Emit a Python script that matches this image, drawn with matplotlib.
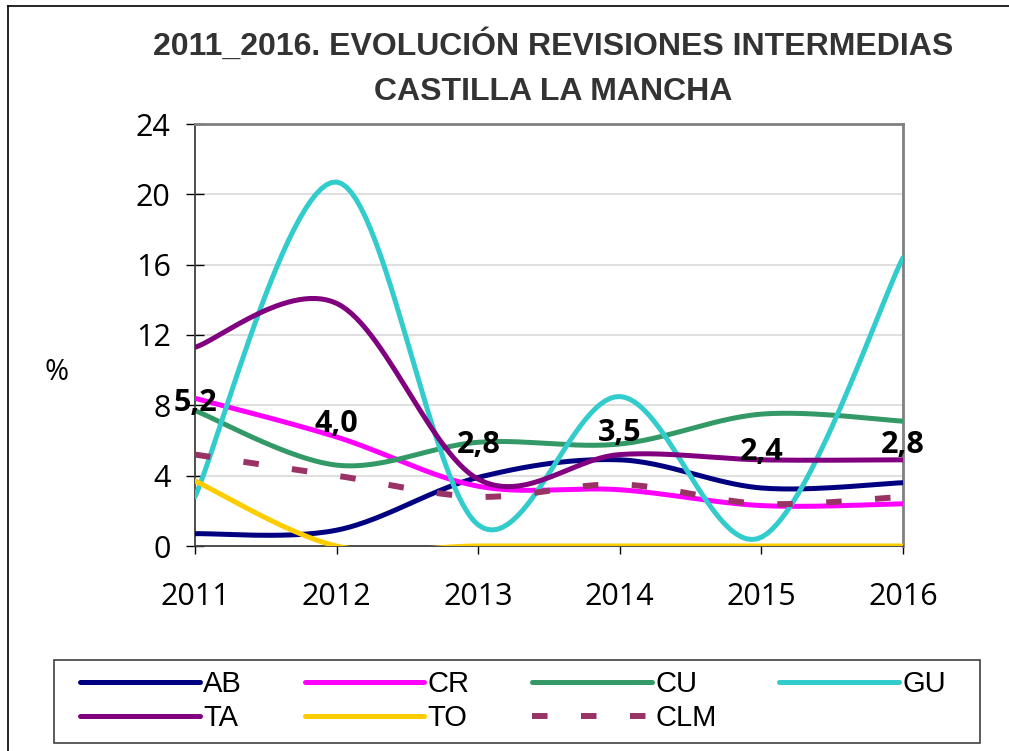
import numpy as np
import matplotlib
matplotlib.use("Agg")
import matplotlib.pyplot as plt
from matplotlib.lines import Line2D
from matplotlib.patches import Rectangle

years = ["2011", "2012", "2013", "2014", "2015", "2016"]

ab = [0.7, 0.9, 3.9, 4.9, 3.3, 3.6]
cr = [8.4, 6.2, 3.4, 3.2, 2.3, 2.4]
cu = [7.7, 4.6, 5.9, 5.8, 7.5, 7.1]
gu = [2.8, 20.7, 1.2, 8.5, 0.5, 16.4]
ta = [11.3, 13.8, 3.8, 5.2, 4.9, 4.9]
to = [3.7, 0.0, 0.0, 0.0, 0.0, 0.0]
clm = [5.2, 4.0, 2.8, 3.5, 2.4, 2.8]
clm_labels = ["5,2", "4,0", "2,8", "3,5", "2,4", "2,8"]

W, H = 1009, 751
TICKFONT = ["Open Sans", "DejaVu Sans"]


def smooth(y, n=30):
    # bezier through the points, like the smoothed lines of a spreadsheet chart
    pts = np.column_stack([np.arange(len(y)), y]).astype(float)
    out = []
    for i in range(len(pts) - 1):
        p0 = pts[i - 1] if i > 0 else pts[i]
        p1 = pts[i]
        p2 = pts[i + 1]
        p3 = pts[i + 2] if i + 2 < len(pts) else pts[i + 1]
        c1 = p1 + (p2 - p0) / 6
        c2 = p2 - (p3 - p1) / 6
        t = np.linspace(0, 1, n)[:, None]
        seg = (1 - t) ** 3 * p1 + 3 * (1 - t) ** 2 * t * c1 + 3 * (1 - t) * t ** 2 * c2 + t ** 3 * p2
        out.append(seg if i == 0 else seg[1:])
    s = np.vstack(out)
    return s[:, 0], s[:, 1]


fig = plt.figure(figsize=(W / 100, H / 100), dpi=100)
ax = fig.add_axes([195 / W, 1 - 546 / H, (903 - 195) / W, (546 - 124) / H])

series = [
    ("AB", ab, "#000080"),
    ("CR", cr, "#FF00FF"),
    ("CU", cu, "#339966"),
    ("GU", gu, "#33CCCC"),
    ("TA", ta, "#800080"),
    ("TO", to, "#FFCC00"),
]
lines = {}
for name, vals, col in series:
    xs, ys = smooth(vals)
    ln, = ax.plot(xs, ys, color=col, lw=3.6, solid_capstyle="round",
                  solid_joinstyle="round", label=name, zorder=3)
    lines[name] = ln

xs, ys = smooth(clm)
ln, = ax.plot(xs, ys, color="#993366", lw=4.3, linestyle=(0, (2.6, 5.6)),
              dash_capstyle="butt", label="CLM", zorder=3)
lines["CLM"] = ln

for i, lab in enumerate(clm_labels):
    ax.annotate(lab, (i, clm[i]), xytext=(0, 37), textcoords="offset points",
                ha="center", va="center", fontsize=22, fontweight="bold",
                family=TICKFONT, zorder=5, annotation_clip=False)

ax.set_xlim(0, 5)
ax.set_ylim(0, 24)
ax.set_xticks(range(len(years)))
ax.set_xticklabels(years)
ax.set_yticks(range(0, 25, 4))
ax.yaxis.grid(True, color="#D9D9D9", lw=1.2)
ax.set_axisbelow(True)

for lab in ax.get_xticklabels() + ax.get_yticklabels():
    lab.set_family(TICKFONT)
    lab.set_fontsize(22)
ax.tick_params(axis="y", direction="inout", length=13, width=1, pad=11)
ax.tick_params(axis="x", direction="out", length=6, width=1, pad=20)

ax.spines["top"].set_color("#808080")
ax.spines["right"].set_color("#808080")
ax.spines["top"].set_linewidth(2)
ax.spines["right"].set_linewidth(2)
ax.spines["left"].set_color("#404040")
ax.spines["bottom"].set_color("#404040")
ax.spines["left"].set_linewidth(1.3)
ax.spines["bottom"].set_linewidth(1.3)

fig.text(553 / W, 1 - 45 / H, "2011_2016. EVOLUCIÓN REVISIONES INTERMEDIAS",
         ha="center", va="center", fontsize=23, fontweight="bold",
         family="Liberation Sans", color="#333333")
fig.text(553 / W, 1 - 92 / H, "CASTILLA LA MANCHA",
         ha="center", va="center", fontsize=23, fontweight="bold",
         family="Liberation Sans", color="#333333")
fig.text(57 / W, 1 - 372 / H, "%", ha="center", va="center", fontsize=21,
         family=TICKFONT)

# legend is filled column by column, so order for a row-wise layout
order = ["AB", "TA", "CR", "TO", "CU", "CLM", "GU"]
leg = fig.legend(handles=[lines[k] for k in order], loc="upper left", ncol=4,
                 bbox_to_anchor=(80 / W, 1 - 670 / H),
                 borderaxespad=0, frameon=False,
                 prop={"family": "Liberation Sans", "size": 21},
                 handlelength=4.1, handletextpad=0.12, labelspacing=0.22,
                 columnspacing=2.15, borderpad=0.0)
fig.add_artist(Rectangle((54 / W, 1 - 743 / H), (980 - 54) / W, (743 - 660) / H,
                         transform=fig.transFigure, fill=False,
                         edgecolor="#404040", lw=1.2))

# outer chart frame
fig.add_artist(Line2D([8 / W, 8 / W], [0, 1 - 6 / H], color="black", lw=1.2))
fig.add_artist(Line2D([8 / W, 1], [1 - 6 / H, 1 - 6 / H], color="black", lw=1.2))

fig.savefig("out.png", dpi=100)
